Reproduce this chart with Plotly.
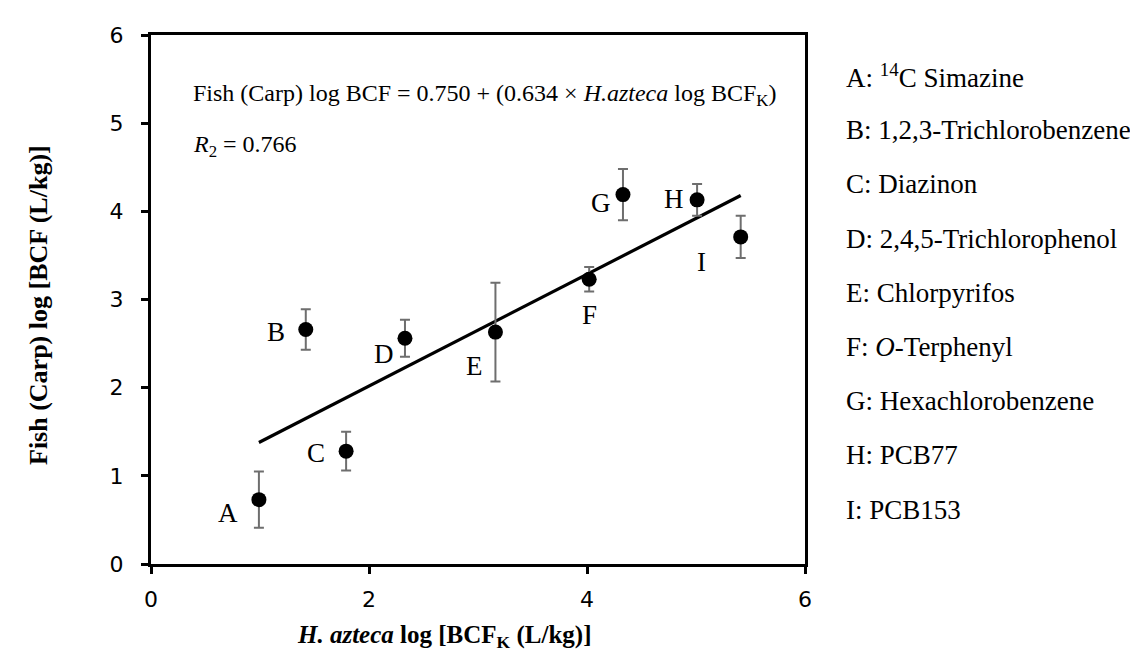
import plotly.graph_objects as go

# Data
labels = ["A", "B", "C", "D", "E", "F", "G", "H", "I"]
x_vals = [0.99, 1.42, 1.79, 2.33, 3.16, 4.02, 4.33, 5.01, 5.41]
y_vals = [0.73, 2.66, 1.28, 2.56, 2.63, 3.23, 4.19, 4.13, 3.71]
y_err = [0.32, 0.23, 0.22, 0.21, 0.56, 0.14, 0.29, 0.18, 0.24]
label_x = [0.71, 1.15, 1.51, 2.14, 2.97, 4.02, 4.13, 4.80, 5.05]
label_y = [0.58, 2.63, 1.26, 2.38, 2.25, 2.82, 4.10, 4.14, 3.42]
names = [
    "A: <sup>14</sup>C Simazine",
    "B: 1,2,3-Trichlorobenzene",
    "C: Diazinon",
    "D: 2,4,5-Trichlorophenol",
    "E: Chlorpyrifos",
    "F: <i>O</i>-Terphenyl",
    "G: Hexachlorobenzene",
    "H: PCB77",
    "I: PCB153",
]
intercept = 0.750
slope = 0.634
trend_x = [0.99, 5.41]
trend_y = [intercept + slope * v for v in trend_x]
x_ticks = [0, 2, 4, 6]
y_ticks = [0, 1, 2, 3, 4, 5, 6]

serif = "Liberation Serif, Times New Roman, serif"

# pixel geometry of the plot area
L, R, T, B = 143, 797, 27, 556
W, H = R - L, B - T

def px_x(p):
    return (p - L) / W

def px_y(p):
    return (B - p) / H

fig = go.Figure()
fig.add_trace(go.Scatter(
    x=trend_x, y=trend_y, mode="lines",
    line=dict(color="black", width=3.2), showlegend=False, hoverinfo="skip"))
fig.add_trace(go.Scatter(
    x=x_vals, y=y_vals, mode="markers",
    marker=dict(color="black", size=15),
    error_y=dict(type="data", array=y_err, visible=True, color="#6e6e6e",
                 thickness=2, width=5),
    showlegend=False))

for lx, ly, t in zip(label_x, label_y, labels):
    fig.add_annotation(x=lx, y=ly, text=t, showarrow=False,
                       font=dict(family=serif, size=27, color="black"))

fig.add_annotation(xref="paper", yref="paper", x=px_x(183), y=px_y(87),
                   xanchor="left", yanchor="middle", showarrow=False,
                   text="Fish (Carp) log BCF = 0.750 + (0.634 × <i>H.azteca</i> log BCF<sub>K</sub>)",
                   font=dict(family=serif, size=24, color="black"))
fig.add_annotation(xref="paper", yref="paper", x=px_x(183), y=px_y(138),
                   xanchor="left", yanchor="middle", showarrow=False,
                   text="<i>R</i><sub>2</sub> = 0.766",
                   font=dict(family=serif, size=24, color="black"))

leg_y0 = 68
leg_dy = 54.2
for i, n in enumerate(names):
    fig.add_annotation(xref="paper", yref="paper",
                       x=px_x(836), y=px_y(leg_y0 + i * leg_dy),
                       xanchor="left", yanchor="middle", showarrow=False,
                       text=n, font=dict(family=serif, size=27, color="black"))

# axis titles
fig.add_annotation(xref="paper", yref="paper", x=px_x(436), y=px_y(628),
                   xanchor="center", yanchor="middle", showarrow=False,
                   text="<b><i>H. azteca</i> log [BCF<sub>K</sub> (L/kg)]</b>",
                   font=dict(family=serif, size=25, color="black"))
fig.add_annotation(xref="paper", yref="paper", x=px_x(30), y=px_y(297),
                   xanchor="center", yanchor="middle", showarrow=False,
                   textangle=-90,
                   text="<b>Fish (Carp) log [BCF (L/kg)]</b>",
                   font=dict(family=serif, size=26, color="black"))

axis_common = dict(
    showgrid=False, zeroline=False, showline=True, linecolor="black",
    linewidth=3, mirror=True, ticks="outside", ticklen=7, tickwidth=3,
    tickcolor="black",
    tickfont=dict(family="DejaVu Sans, Verdana, sans-serif", size=22, color="black"),
)

fig.update_xaxes(range=[0, 6], tickvals=x_ticks, ticklabelstandoff=7, **axis_common)
fig.update_yaxes(range=[0, 6], tickvals=y_ticks, ticklabelstandoff=13, **axis_common)

fig.update_layout(
    width=1138, height=651,
    margin=dict(l=L, r=1138 - R, t=T, b=651 - B),
    plot_bgcolor="white", paper_bgcolor="white",
)

fig.write_html("out.html")
